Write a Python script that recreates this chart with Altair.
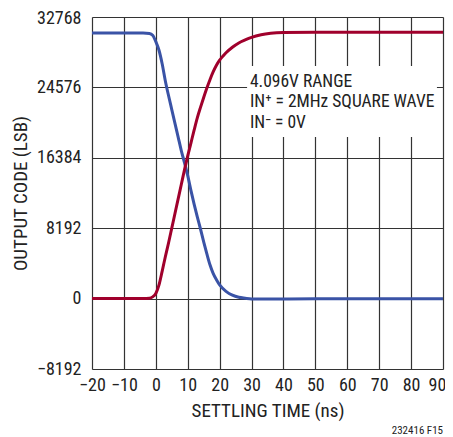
import altair as alt
import pandas as pd

# ---- data ----
blue_t = [-20, -10, -4, -2, -1, 0, 1, 2, 3, 4, 5, 6, 7, 8, 9, 10, 11, 12, 13, 14, 15, 16, 17, 18, 19, 20,
          22, 24, 26, 28, 30, 35, 40, 50, 60, 70, 80, 90]
blue_v = [30900, 30900, 30900, 30850, 30650, 29900, 28900, 27300, 25300, 23600, 22000, 20400, 18800, 17200,
          15800, 14300, 12600, 11000, 9500, 8100, 6600, 5200, 3900, 2900, 2200, 1600,
          850, 400, 150, 40, -40, -60, -40, -30, -30, -30, -30, -30]
red_t = [-20, -10, -4, -2, -1, 0, 1, 2, 3, 4, 5, 6, 7, 8, 9, 10, 11, 12, 13, 14, 15, 16, 17, 18, 19, 20,
         21, 22, 24, 26, 28, 30, 33, 36, 40, 50, 60, 70, 80, 90]
red_v = [0, 0, 0, 50, 200, 600, 1600, 3200, 4900, 6500, 8200, 9900, 11600, 13300, 15000, 16600, 18100, 19600,
         21030, 22250, 23400, 24500, 25500, 26400, 27150, 27750, 28200, 28600, 29250, 29750, 30100, 30400,
         30700, 30870, 30960, 31000, 31000, 31000, 31000, 31000]

x_ticks = [-20, -10, 0, 10, 20, 30, 40, 50, 60, 70, 80, 90]
y_ticks = [-8192, 0, 8192, 16384, 24576, 32768]

notes = ["4.096V RANGE", "IN\u207a = 2MHz SQUARE WAVE", "IN\u207b = 0V"]
note_x = [29.5, 29.5, 29.5]
note_y = [24650, 22300, 19850]
box_x = [28.6]
box_x2 = [88.1]
box_y = [18800]
box_y2 = [27065]

FONT = "'Liberation Sans Narrow', 'Roboto Condensed', Roboto"

df = pd.concat([
    pd.DataFrame({"t": blue_t, "v": blue_v, "s": "blue"}),
    pd.DataFrame({"t": red_t, "v": red_v, "s": "red"}),
])
notes_df = pd.DataFrame({"txt": notes, "x": note_x, "y": note_y})
box_df = pd.DataFrame({"x": box_x, "x2": box_x2, "y": box_y, "y2": box_y2})

xs = alt.Scale(domain=[-20, 90], nice=False, zero=False)
ys = alt.Scale(domain=[-8192, 32768], nice=False, zero=False)

x_axis = alt.Axis(
    values=x_ticks, title="SETTLING TIME (ns)", grid=True, ticks=False, domain=False,
    labelPadding=7, labelFontSize=18, labelFont=FONT, labelColor="#222", labelOverlap=False,
    labelOffset=alt.condition("datum.value == 90", alt.value(-6), alt.value(0)),
    titleFont=FONT, titleFontSize=19, titleFontWeight="normal", titleColor="#222",
    titleY=41, titleBaseline="middle", gridColor="#333", gridWidth=1.2, labelFlush=False)
y_axis = alt.Axis(
    values=y_ticks, format="d", title="OUTPUT CODE (LSB)", grid=True, ticks=False, domain=False,
    labelPadding=11, labelFontSize=18, labelFont=FONT, labelColor="#222", labelOverlap=False,
    labelOffset=alt.condition("datum.value == 32768", alt.value(1.5), alt.value(0)),
    titleFont=FONT, titleFontSize=19, titleFontWeight="normal", titleColor="#222",
    titleX=-72, titleY=176, titleBaseline="middle", titleAngle=-90, titleAlign="center",
    gridColor="#333", gridWidth=1.2, labelFlush=False)

lines = alt.Chart(df).mark_line(strokeWidth=3, interpolate="monotone").encode(
    x=alt.X("t:Q", scale=xs, axis=x_axis),
    y=alt.Y("v:Q", scale=ys, axis=y_axis),
    color=alt.Color("s:N", scale=alt.Scale(domain=["blue", "red"], range=["#3a53a6", "#a0002c"]), legend=None),
)

box = alt.Chart(box_df).mark_rect(color="white").encode(
    x=alt.X("x:Q", scale=xs, axis=x_axis), x2="x2", y=alt.Y("y:Q", scale=ys, axis=y_axis), y2="y2")

texts = alt.Chart(notes_df).mark_text(align="left", baseline="alphabetic", font=FONT, fontSize=17.5,
                                      color="#222").encode(
    x=alt.X("x:Q", scale=xs, axis=x_axis), y=alt.Y("y:Q", scale=ys, axis=y_axis), text="txt:N")

foot = alt.Chart(pd.DataFrame({"txt": ["232416 F15"]})).mark_text(
    align="right", baseline="alphabetic", font=FONT, fontSize=11, color="#222").encode(
    x=alt.value(351), y=alt.value(417), text="txt:N")

chart = alt.layer(box, lines, texts, foot).properties(
    width=351, height=352,
    autosize=alt.AutoSizeParams(type="none"),
    padding={"left": 84, "top": 9, "right": 2, "bottom": 68},
).configure_view(stroke="#111", strokeWidth=2).configure(background="white")

chart.save("out.html", embed_options={"renderer": "svg", "actions": False})
